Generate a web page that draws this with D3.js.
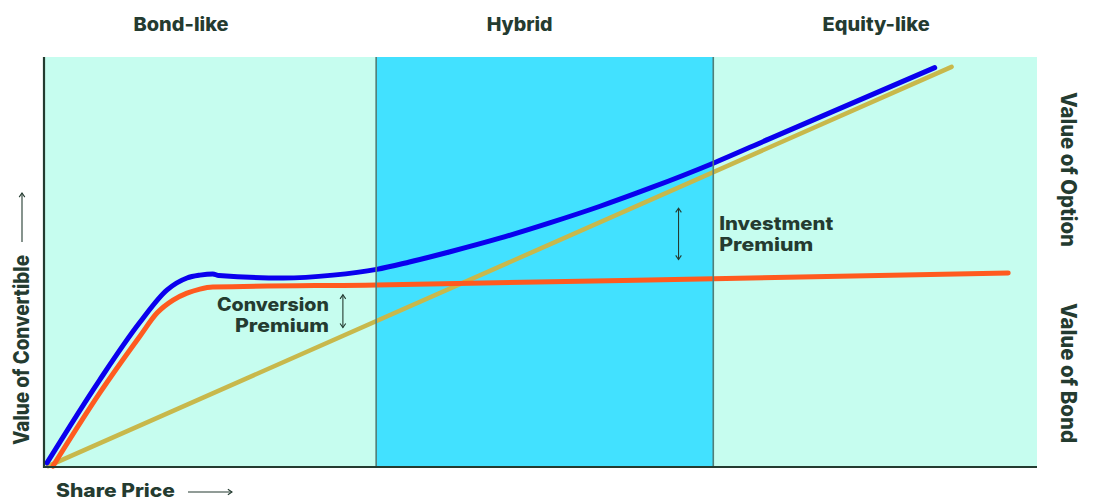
<!DOCTYPE html>
<html><head><meta charset="utf-8">
<script src="https://cdn.jsdelivr.net/npm/d3@7"></script>
<style>body{margin:0;background:#fff}svg{display:block}</style>
</head><body><svg id="c" width="1094" height="500"></svg>
<script>
// ---- data (abstract units: share price 0-100, value 0-100) ----
const regimes = ["Bond-like", "Hybrid", "Equity-like"];
const regimeEdges = [0, 33.45, 67.4, 100];
const regimeLabelX = [13.8, 47.9, 83.8];

const convertibleX = [0.3, 5.6, 9.6, 12.4, 14.4, 15.7, 17.0, 17.6, 24.1, 29.1, 33.5, 36.8, 40.9, 45.9, 51.0, 56.0, 61.0, 67.4, 73.1, 89.7];
const convertibleY = [1.0, 21.2, 35.1, 43.2, 46.1, 46.8, 47.1, 46.7, 46.1, 46.8, 48.2, 50.0, 52.5, 55.8, 59.6, 63.6, 68.0, 74.1, 80.1, 97.4];

const bondX = [0.9, 5.6, 9.6, 11.4, 13.0, 14.4, 15.7, 17.0, 33.5, 67.4, 97.1];
const bondY = [0.2, 18.0, 31.7, 37.6, 40.7, 42.4, 43.4, 43.9, 44.4, 45.9, 47.3];

const equityX = [0.4, 91.4];
const equityY = [0.2, 97.6];

const xLabel = "Share Price";
const yLabel = "Value of Convertible";
const rightLabels = ["Value of Option", "Value of Bond"];
const annotations = [
  {lines: ["Conversion", "Premium"], anchor: "end", x: 28.7, y: 38.0, arrowX: 30.1, arrowY: [42.0, 34.0]},
  {lines: ["Investment", "Premium"], anchor: "start", x: 68.0, y: 57.8, arrowX: 63.9, arrowY: [63.1, 50.6]}
];

// ---- layout ----
const svg = d3.select("#c");
const L = 44, R = 1037, T = 57, B = 467;
const x = d3.scaleLinear().domain([0, 100]).range([L, R]);
const y = d3.scaleLinear().domain([0, 100]).range([B, T]);
const ink = "#243b30";
const font = "Inter, 'Open Sans', sans-serif";
const fw = 800;

// backgrounds
const bgColors = ["#c6fdef", "#42e1ff", "#c6fdef"];
svg.selectAll("rect.reg").data(regimes).enter().append("rect")
  .attr("x", (d, i) => x(regimeEdges[i]))
  .attr("width", (d, i) => x(regimeEdges[i + 1]) - x(regimeEdges[i]))
  .attr("y", T).attr("height", B - T)
  .attr("fill", (d, i) => bgColors[i]);

// regime labels
const regimeWidths = [95, 66, 107];
svg.selectAll("text.reg").data(regimes).enter().append("text")
  .attr("x", (d, i) => x(regimeLabelX[i]) - regimeWidths[i] / 2)
  .attr("y", 30.5)
  .attr("textLength", (d, i) => regimeWidths[i])
  .attr("lengthAdjust", "spacingAndGlyphs")
  .attr("font-family", font).attr("font-weight", fw).attr("font-size", 19)
  .attr("fill", ink).text(d => d);

// curves
const line = d3.line().x(d => x(d[0])).y(d => y(d[1])).curve(d3.curveMonotoneX);
const series = [
  {xs: equityX, ys: equityY, color: "#c8b84b", w: 4.5},
  {xs: bondX, ys: bondY, color: "#ff5a1f", w: 5},
  {xs: convertibleX, ys: convertibleY, color: "#0a00ee", w: 5}
];
series.forEach(s => {
  svg.append("path")
    .attr("d", line(s.xs.map((v, i) => [v, s.ys[i]])))
    .attr("fill", "none").attr("stroke", s.color).attr("stroke-width", s.w)
    .attr("stroke-linecap", "round").attr("stroke-linejoin", "round");
});

// regime dividers
svg.selectAll("line.div").data(regimeEdges.slice(1, 3)).enter().append("line")
  .attr("x1", d => x(d)).attr("x2", d => x(d))
  .attr("y1", T).attr("y2", B)
  .attr("stroke", "#4f7f79").attr("stroke-width", 1.6);

// axes
svg.append("line").attr("x1", L).attr("x2", L).attr("y1", T).attr("y2", B + 1)
  .attr("stroke", ink).attr("stroke-width", 2.2);
svg.append("line").attr("x1", L - 1).attr("x2", R).attr("y1", B).attr("y2", B)
  .attr("stroke", ink).attr("stroke-width", 2.2);

// arrow helper
function arrow(x1, y1, x2, y2, both) {
  const g = svg.append("g").attr("stroke", ink).attr("stroke-width", 1.1).attr("fill", "none");
  g.append("line").attr("x1", x1).attr("y1", y1).attr("x2", x2).attr("y2", y2);
  const head = (hx, hy, fx, fy) => {
    const a = Math.atan2(hy - fy, hx - fx), s = 5;
    const p1 = [hx - s * Math.cos(a - 0.6), hy - s * Math.sin(a - 0.6)];
    const p2 = [hx - s * Math.cos(a + 0.6), hy - s * Math.sin(a + 0.6)];
    g.append("path").attr("d", `M${p1}L${hx},${hy}L${p2}`);
  };
  head(x2, y2, x1, y1);
  if (both) head(x1, y1, x2, y2);
}

// x-axis label
svg.append("text").attr("x", 56).attr("y", 497)
  .attr("textLength", 119).attr("lengthAdjust", "spacingAndGlyphs")
  .attr("font-family", font).attr("font-weight", fw).attr("font-size", 18.5)
  .attr("fill", ink).text(xLabel);
arrow(188, 492, 232, 492, false);

// y-axis label
svg.append("text").attr("transform", "translate(29,445) rotate(-90)")
  .attr("textLength", 190).attr("lengthAdjust", "spacingAndGlyphs")
  .attr("font-family", font).attr("font-weight", fw).attr("font-size", 21)
  .attr("fill", ink).text(yLabel);
arrow(22, 242, 22, 193, false);

// right labels
const rightPos = [[92, 155], [303, 140]];
rightLabels.forEach((t, i) => {
  svg.append("text").attr("transform", `translate(1061,${rightPos[i][0]}) rotate(90)`)
    .attr("textLength", rightPos[i][1]).attr("lengthAdjust", "spacingAndGlyphs")
    .attr("font-family", font).attr("font-weight", fw).attr("font-size", 21)
    .attr("fill", ink).text(t);
});

// annotations
const annWidths = [[112, 94], [114, 94]];
annotations.forEach((a, k) => {
  a.lines.forEach((ln, j) => {
    const w = annWidths[k][j];
    const tx = a.anchor === "end" ? x(a.x) - w : x(a.x);
    svg.append("text").attr("x", tx).attr("y", y(a.y) + j * 21)
      .attr("textLength", w).attr("lengthAdjust", "spacingAndGlyphs")
      .attr("font-family", font).attr("font-weight", fw).attr("font-size", 18.5)
      .attr("fill", ink).text(ln);
  });
  arrow(x(a.arrowX), y(a.arrowY[0]), x(a.arrowX), y(a.arrowY[1]), true);
});
</script></body></html>
